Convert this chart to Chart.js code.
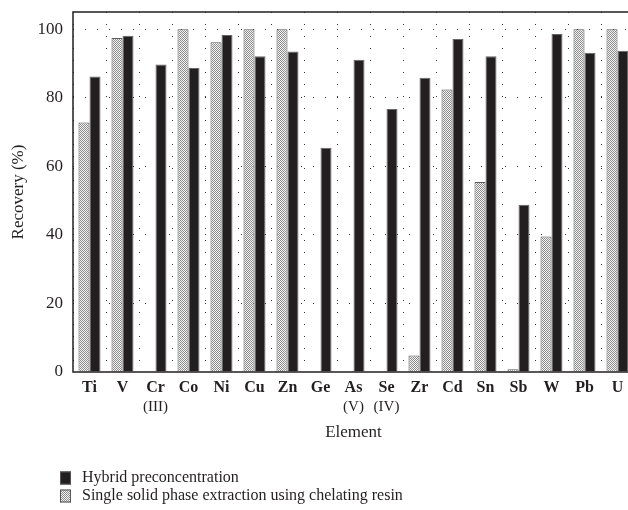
<!DOCTYPE html>
<html>
<head>
<meta charset="utf-8">
<script src="https://cdn.jsdelivr.net/npm/chart.js@4.4.0/dist/chart.umd.min.js"></script>
<style>
  html, body { margin: 0; padding: 0; background: #fff; overflow: hidden; }
  #wrap { width: 640px; height: 510px; }
</style>
</head>
<body>
<div id="wrap"><canvas id="myChart"></canvas></div>
<script>
const elements = ['Ti', 'V', 'Cr', 'Co', 'Ni', 'Cu', 'Zn', 'Ge', 'As', 'Se', 'Zr', 'Cd', 'Sn', 'Sb', 'W', 'Pb', 'U'];
const subLabels = ['', '', '(III)', '', '', '', '', '', '(V)', '(IV)', '', '', '', '', '', '', ''];
const singleResin = [72.8, 97.4, 0, 100, 96.2, 100, 100, 0, 0, 0, 4.8, 82.4, 55.4, 0.8, 39.5, 100, 100];
const hybrid = [86.2, 98.1, 89.7, 88.7, 98.3, 92.1, 93.5, 65.4, 91.1, 76.7, 85.8, 97.1, 92.1, 48.8, 98.6, 93.1, 93.7];
const yTicks = [0, 20, 40, 60, 80, 100];

const serif = '"Liberation Serif", "DejaVu Serif", serif';

// stippled fill for the resin bars
const pc = document.createElement('canvas');
pc.width = 2; pc.height = 2;
const pctx = pc.getContext('2d');
pctx.fillStyle = '#f4f4f4';
pctx.fillRect(0, 0, 2, 2);
pctx.fillStyle = '#8c8c8c';
pctx.fillRect(0, 0, 1, 1);
pctx.fillRect(1, 1, 1, 1);
const stipple = pctx.createPattern(pc, 'repeat');

// frame, sub labels and legend
const extras = {
    id: 'extras',
    afterDraw(chart) {
        const {ctx, chartArea} = chart;
        const xs = chart.scales.x;
        ctx.save();
        ctx.strokeStyle = '#231f20';
        ctx.lineWidth = 1.5;
        ctx.strokeRect(chartArea.left, chartArea.top, chartArea.right - chartArea.left, chartArea.bottom - chartArea.top);

        ctx.fillStyle = '#231f20';
        ctx.font = '15px ' + serif;
        ctx.textAlign = 'center';
        ctx.textBaseline = 'middle';
        subLabels.forEach((s, i) => {
            if (s) ctx.fillText(s, xs.getPixelForValue(i), chartArea.bottom + 35);
        });

        ctx.font = '16px ' + serif;
        ctx.textAlign = 'left';
        const items = [chart.data.datasets[1], chart.data.datasets[0]];
        items.forEach((ds, k) => {
            const y = chartArea.bottom + 106 + k * 18;
            ctx.fillStyle = ds.backgroundColor;
            ctx.fillRect(chartArea.left - 13, y - 6.5, 11, 13);
            ctx.strokeStyle = '#555';
            ctx.lineWidth = 1;
            ctx.strokeRect(chartArea.left - 12.5, y - 6, 10, 12);
            ctx.fillStyle = '#231f20';
            ctx.fillText(ds.label, chartArea.left + 9, y);
        });
        ctx.restore();
    }
};

const ctx = document.getElementById('myChart').getContext('2d');
const myChart = new Chart(ctx, {
    type: 'bar',
    data: {
        labels: elements,
        datasets: [{
            label: 'Single solid phase extraction using chelating resin',
            data: singleResin,
            backgroundColor: stipple,
            borderColor: '#5a5a5a',
            borderWidth: 1,
            borderSkipped: 'bottom'
        }, {
            label: 'Hybrid preconcentration',
            data: hybrid,
            backgroundColor: '#231f20',
            borderColor: '#666',
            borderWidth: 1,
            borderSkipped: 'bottom'
        }]
    },
    options: {
        responsive: true,
        maintainAspectRatio: false,
        animation: false,
        layout: { padding: { top: 12, right: 6, left: 0, bottom: 0 } },
        datasets: { bar: { barPercentage: 1, categoryPercentage: 0.667 } },
        plugins: {
            legend: { display: false },
            tooltip: { enabled: false }
        },
        scales: {
            x: {
                afterFit: (s) => { s.height = 138; s.paddingLeft = 0; s.paddingRight = 0; },
                grid: {
                    color: '#333',
                    lineWidth: 1,
                    drawTicks: false,
                    offset: true
                },
                border: { display: false, dash: [1, 11] },
                ticks: {
                    color: '#231f20',
                    padding: 6,
                    font: { family: serif, size: 16, weight: 'bold' }
                },
                title: {
                    display: true,
                    text: 'Element',
                    color: '#231f20',
                    font: { family: serif, size: 17 },
                    padding: { top: 0, bottom: 67 }
                }
            },
            y: {
                min: 0,
                max: 105,
                afterFit: (s) => { s.width = 73; s.paddingTop = 0; s.paddingBottom = 0; },
                afterBuildTicks: (s) => { s.ticks = yTicks.map(v => ({ value: v })); },
                grid: {
                    color: (c) => c.tick && c.tick.value === 0 ? 'rgba(0,0,0,0)' : '#333',
                    lineWidth: 1,
                    drawTicks: false
                },
                border: { display: false, dash: [1, 11] },
                ticks: {
                    color: '#231f20',
                    padding: 10,
                    font: { family: serif, size: 17 }
                },
                title: {
                    display: true,
                    text: 'Recovery (%)',
                    color: '#231f20',
                    font: { family: serif, size: 17 },
                    padding: { top: 8, bottom: 0 }
                }
            }
        }
    },
    plugins: [extras]
});
</script>
</body>
</html>
